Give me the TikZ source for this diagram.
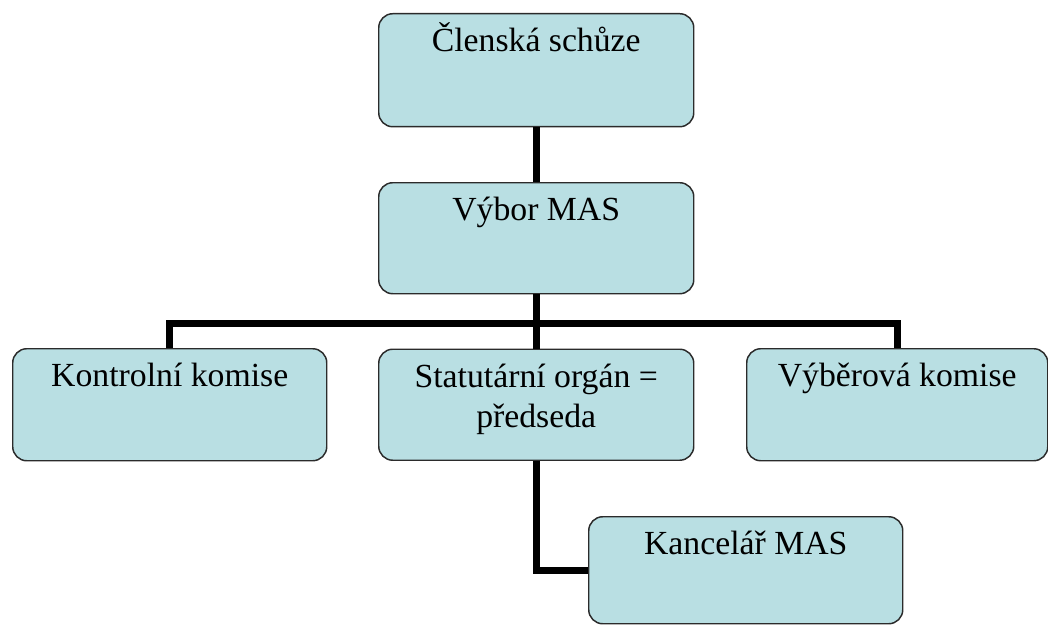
\documentclass[tikz,border=0pt]{standalone}
\usepackage{xcolor}
\usepackage{fontspec}
\setmainfont{Liberation Serif}
\usepackage{tikz}

\definecolor{boxfill}{HTML}{B9DFE3}
\definecolor{boxline}{HTML}{2B2B2B}

\tikzset{
	orgbox/.style 2 args={draw=boxline, line width=1.1pt, fill=boxfill, rounded corners=10.5pt,
		inner sep=0pt, anchor=north west, font=\fontsize{25.3}{30}\selectfont,
		execute at begin node={\begin{minipage}[c][#2][t]{#1}\centering\rule{0pt}{28.5pt}},
		execute at end node={\end{minipage}}},
	conn/.style={draw=black, line width=5.2pt}
}

\begin{document}
\begin{tikzpicture}[x=0.75pt,y=0.75pt,yscale=-1,xscale=1]
	\useasboundingbox (0,0) rectangle (1048,624);
	
	%Rounded Rect [clen]
	\node[orgbox={236.25pt}{84.75pt}] (clen) at (378,13) {Členská schůze};
	%Rounded Rect [vybor]
	\node[orgbox={236.25pt}{83.25pt}] (vybor) at (378,182) {Výbor MAS};
	%Rounded Rect [kontrol]
	\node[orgbox={235.5pt}{84pt}] (kontrol) at (12,348) {Kontrolní komise};
	%Rounded Rect [statut]
	\node[orgbox={236.25pt}{83.25pt}] (statut) at (378,348.5) {Statutární orgán =\\předseda};
	%Rounded Rect [vyber]
	\node[orgbox={225.75pt}{84pt}] (vyber) at (746,348) {Výběrová komise};
	%Rounded Rect [kancel]
	\node[orgbox={235.5pt}{80.25pt}] (kancel) at (588,516) {Kancelář MAS};
	
	\coordinate (bus) at (536,323.5);
	
	%Straight Lines
	\draw[conn] (clen.south) -- (vybor.north);
	\draw[conn] (vybor.south) -- (statut.north);
	\draw[conn] (kontrol.north) |- (bus) -| (vyber.north);
	\draw[conn] (statut.south) |- (kancel.west);
\end{tikzpicture}
\end{document}
